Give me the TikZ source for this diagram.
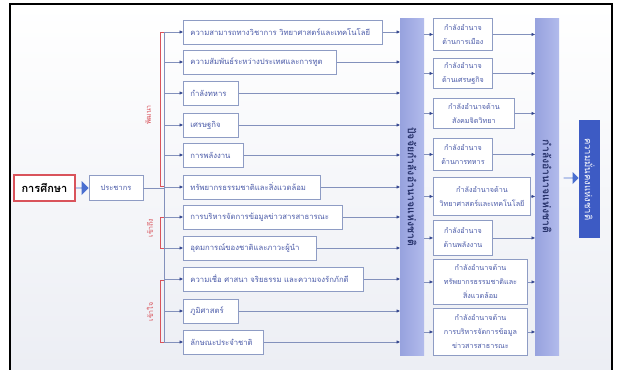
\documentclass[tikz,border=0pt]{standalone}
\usepackage{fontspec}
\newfontfamily\thai[Script=Thai]{Loma}
\usetikzlibrary{arrows.meta,shapes.arrows}
\definecolor{boxline}{HTML}{8E9CC4}
\definecolor{txt}{HTML}{4A5AA8}
\definecolor{conn}{HTML}{8391BC}
\definecolor{tipc}{HTML}{34468F}
\definecolor{barL}{HTML}{97A2DE}
\definecolor{barR}{HTML}{B2BBEC}
\definecolor{darkblue}{HTML}{3D5BC4}
\definecolor{arrowblue}{HTML}{4A6FD0}
\definecolor{redline}{HTML}{D9535B}
\definecolor{bartxt}{HTML}{27326B}
\tikzset{
  rowbox/.style={draw=boxline, line width=0.9pt, fill=white, text=txt, anchor=west,
    font=\thai\fontsize{7.7}{9}\selectfont, minimum height=24, inner xsep=7, inner ysep=0, align=left},
  colbox/.style={draw=boxline, line width=0.9pt, fill=white, text=txt, anchor=north west,
    font=\thai\fontsize{7.2}{14}\selectfont, inner xsep=1, inner ysep=0, align=center},
  conline/.style={draw=conn, line width=0.7pt},
  arr/.style={conline, -{Triangle[length=3.5pt,width=3pt,fill=tipc,color=tipc]}},
  redbr/.style={draw=redline, line width=0.8pt},
  redlab/.style={text=redline, rotate=90, font=\thai\fontsize{7}{8}\selectfont, inner sep=0},
  barnode/.style={anchor=north west, minimum width=24, minimum height=337, inner sep=0,
    left color=barL, right color=barR, draw=none},
  bartext/.style={rotate=-90, text=bartxt, font=\thai\bfseries\fontsize{10.5}{12}\selectfont, inner sep=0},
  blockarrow/.style={single arrow, fill=arrowblue, draw=none, inner sep=0,
    single arrow head extend=3pt, single arrow tip angle=90}
}
\begin{document}
\begin{tikzpicture}[x=1pt,y=-1pt]
\useasboundingbox (0,0) rectangle (620,369);
\fill[white] (0,0) rectangle (620,369);
\shade[top color=white, bottom color={rgb,255:red,236;green,238;blue,244}] (10,4) rectangle (612,369);
\draw[line width=2pt] (10,372) -- (10,4) -- (612,4) -- (612,372);

% left part
\node[draw=redline, line width=1.1pt, fill=white, minimum width=61, minimum height=26, inner sep=0,
  font=\thai\bfseries\fontsize{11}{13}\selectfont] (edu) at (44.5,188) {การศึกษา};
\node[blockarrow, minimum width=14, minimum height=13] (a1) at (82,188) {};
\node[draw=boxline, line width=0.9pt, fill=white, text=txt, minimum width=54, minimum height=25, inner sep=0,
  font=\thai\fontsize{7.5}{8}\selectfont] (pop) at (116,188) {ประชากร};

% row boxes
\node[rowbox, text width=185] (r1) at (183,32) {ความสามารถทางวิชาการ วิทยาศาสตร์และเทคโนโลยี};
\node[rowbox, text width=139] (r2) at (183,62) {ความสัมพันธ์ระหว่างประเทศและการทูต};
\node[rowbox, text width=41] (r3) at (183,93) {กำลังทหาร};
\node[rowbox, text width=41] (r4) at (183,125) {เศรษฐกิจ};
\node[rowbox, text width=46] (r5) at (183,155) {การพลังงาน};
\node[rowbox, text width=123] (r6) at (183,187) {ทรัพยากรธรรมชาติและสิ่งแวดล้อม};
\node[rowbox, text width=145] (r7) at (183,217) {การบริหารจัดการข้อมูลข่าวสารสาธารณะ};
\node[rowbox, text width=119] (r8) at (183,248) {อุดมการณ์ของชาติและภาวะผู้นำ};
\node[rowbox, text width=166] (r9) at (183,279) {ความเชื่อ ศาสนา จริยธรรม และความจงรักภักดี};
\node[rowbox, text width=41] (r10) at (183,311) {ภูมิศาสตร์};
\node[rowbox, text width=66] (r11) at (183,342) {ลักษณะประจำชาติ};

% trunk
\foreach \i/\y in {1/32,2/62,3/93,4/125,5/155,6/187,7/217,8/248,9/279,10/311,11/342}{
  \coordinate (t\i) at (164,\y);
}
\coordinate (tp) at (164,188);
\draw[conline] (pop.east) -- (tp);
\draw[conline] (t1) -- (t11);
\foreach \i in {1,...,11}{ \draw[arr] (t\i) -- (r\i.west); }

% red brackets
\coordinate (b1a) at (160,32); \coordinate (b1b) at (160,186);
\coordinate (b2a) at (160,217); \coordinate (b2b) at (160,248);
\coordinate (b3a) at (160,280); \coordinate (b3b) at (160,342);
\draw[redbr] ([xshift=4]b1a) -- (b1a) -- (b1b) -- ([xshift=4]b1b);
\draw[redbr] ([xshift=4]b2a) -- (b2a) -- (b2b) -- ([xshift=4]b2b);
\draw[redbr] ([xshift=4]b3a) -- (b3a) -- (b3b) -- ([xshift=4]b3b);
\node[redlab] (l1) at (148,115) {พัฒนา};
\node[redlab] (l2) at (150,228) {เข้าถึง};
\node[redlab] (l3) at (150,312) {เข้าใจ};

% bars
\node[barnode] (bar1) at (400,18) {};
\node[bartext] (bt1) at (bar1.center) {ปัจจัยกำลังอำนาจแห่งชาติ};
\node[barnode] (bar2) at (535,18) {};
\node[bartext] (bt2) at (bar2.center) {กำลังอำนาจแห่งชาติ};

\foreach \i in {1,...,11}{ \draw[arr] (r\i.east) -- (r\i.east -| bar1.west); }

% column boxes
\node[colbox, minimum width=59, minimum height=32, text width=57] (cA) at (433,18) {กำลังอำนาจ\\ด้านการเมือง};
\node[colbox, minimum width=59, minimum height=30, text width=57] (cB) at (433,58) {กำลังอำนาจ\\ด้านเศรษฐกิจ};
\node[colbox, minimum width=81, minimum height=30, text width=79] (cC) at (433,98) {กำลังอำนาจด้าน\\สังคมจิตวิทยา};
\node[colbox, minimum width=59, minimum height=32, text width=57] (cD) at (433,138) {กำลังอำนาจ\\ด้านการทหาร};
\node[colbox, minimum width=97, minimum height=38, text width=95] (cE) at (433,177) {กำลังอำนาจด้าน\\วิทยาศาสตร์และเทคโนโลยี};
\node[colbox, minimum width=59, minimum height=35, text width=57] (cF) at (433,220) {กำลังอำนาจ\\ด้านพลังงาน};
\node[colbox, minimum width=94, minimum height=45, text width=92] (cG) at (433,259) {กำลังอำนาจด้าน\\ทรัพยากรธรรมชาติและ\\สิ่งแวดล้อม};
\node[colbox, minimum width=94, minimum height=47, text width=92] (cH) at (433,308) {กำลังอำนาจด้าน\\การบริหารจัดการข้อมูล\\ข่าวสารสาธารณะ};

\foreach \c in {A,B,C,D,E,F,G,H}{
  \draw[arr] (c\c.west -| bar1.east) -- (c\c.west);
  \draw[arr] (c\c.east) -- (c\c.east -| bar2.west);
}

% final
\node[blockarrow, minimum width=12, minimum height=15] (a2) at (571,178) {};
\node[fill=darkblue, minimum width=21, minimum height=118, inner sep=0, anchor=north west] (fin) at (579,120) {};
\node[rotate=-90, text=white, font=\thai\fontsize{9.5}{11}\selectfont, inner sep=0] (ft) at (fin.center) {ความมั่นคงแห่งชาติ};
\end{tikzpicture}
\end{document}
